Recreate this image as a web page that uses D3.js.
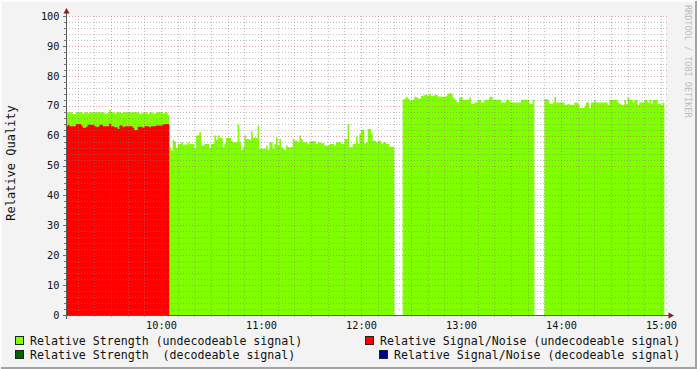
<!DOCTYPE html>
<html>
<head>
<meta charset="utf-8">
<script src="https://cdn.jsdelivr.net/npm/d3@7"></script>
<style>
body { margin: 0; background: #f3f3f3; }
svg { display: block; }
text { font-family: "DejaVu Sans Mono", monospace; }
</style>
</head>
<body>
<svg id="chart" width="697" height="369"></svg>
<script>
// one sample per minute, blocks start at these times
var startA = "09:03", startB = "10:05", startC = "12:25", startD = "13:50";
var rangeStart = "09:03", rangeEnd = "15:03";

var strengthA = [67.8,67.8,67.8,67.8,67.2,67.2,67.8,67.8,67.8,67.8,67.4,67.8,67.8,67.4,67.8,67.8,67.8,67.8,67.8,67.8,
  67.8,67.8,67.8,67.4,67.4,67.8,68.6,67.8,67.8,67.4,67.8,67.8,67.8,67.6,67.8,67.8,67.8,67.8,67.8,67.8,
  67.8,67.8,67.8,67.8,67.4,67.4,67.8,67.8,67.8,67.2,67.8,67.8,67.4,67.4,67.8,67.8,67.8,67.8,67.4,67.8,
  67.8,67.0];
var signalNoiseA = [63.1,63.6,63.1,63.1,63.1,63.1,63.9,63.9,63.9,63.4,62.6,62.6,63.0,63.6,63.6,63.6,63.6,63.1,63.0,63.0,
  63.6,63.6,63.1,63.1,63.1,63.1,64.0,63.1,63.1,62.8,62.8,62.2,63.4,63.4,62.8,63.1,63.1,63.1,63.1,63.1,
  62.6,61.9,61.9,63.0,63.0,63.0,62.6,63.1,63.1,63.1,62.8,63.1,63.1,63.1,63.4,63.4,63.4,63.4,63.7,63.9,
  63.9,63.9];
var strengthB = [56.1,55.0,58.6,58.0,55.8,57.2,57.2,57.8,57.0,57.0,57.0,57.8,57.2,57.2,57.2,55.6,60.0,60.0,61.1,56.7,
  56.7,57.2,57.2,57.2,55.8,57.2,57.2,60.0,58.6,60.0,59.2,59.2,56.1,57.2,59.2,59.2,59.2,58.1,57.8,57.8,
  57.8,63.7,57.8,55.2,56.1,60.0,58.9,58.9,58.6,61.4,59.4,59.4,59.2,63.3,55.6,55.6,55.6,55.6,56.7,55.2,
  57.8,57.8,55.6,57.2,59.4,56.7,58.9,56.1,55.8,55.2,56.7,56.1,56.1,56.1,58.9,58.3,58.3,57.8,60.0,58.9,
  57.8,57.8,57.8,57.2,58.1,58.1,58.1,58.1,57.2,57.8,57.8,57.4,57.4,56.7,56.7,56.7,57.2,57.2,57.2,56.7,
  57.8,57.8,57.8,57.2,57.2,58.9,58.9,63.9,56.1,56.1,57.2,57.2,59.7,57.2,60.6,61.9,61.9,57.4,57.8,62.2,
  62.2,60.6,58.3,58.3,57.8,58.3,58.3,57.2,57.8,57.8,57.2,57.2,56.3,56.3,56.3];
var strengthC = [72.0,72.4,73.0,72.4,71.7,71.7,72.0,73.0,72.8,72.4,72.4,73.3,73.3,73.7,73.7,73.3,73.9,73.3,73.3,73.7,
  73.7,73.1,73.1,73.0,73.0,73.0,73.3,74.1,74.1,74.1,72.8,72.0,71.4,71.1,72.8,72.8,71.9,71.9,71.9,72.0,
  72.8,70.6,70.6,71.1,71.1,71.9,71.9,71.1,71.1,71.9,71.9,71.9,73.0,73.0,72.0,72.0,72.0,72.0,72.0,71.1,
  71.1,71.1,72.0,72.0,71.3,71.1,71.1,71.1,71.1,71.1,71.1,72.0,72.0,72.0,72.0,72.0,70.6,70.6,72.0];
var strengthD = [72.2,72.2,71.7,70.6,70.6,71.1,72.9,71.1,71.1,71.1,71.1,71.1,70.3,70.3,70.6,70.3,70.3,70.3,71.1,71.1,
  70.6,69.2,69.2,69.2,69.7,71.1,71.1,69.2,71.1,71.1,71.9,71.1,71.1,71.1,71.1,71.1,71.1,71.1,70.3,71.9,
  71.9,71.9,71.9,71.9,71.1,70.6,70.3,70.3,71.9,70.6,72.9,71.9,71.9,71.1,71.9,71.9,70.3,71.1,71.1,71.1,
  71.9,71.9,71.1,71.9,70.6,71.9,71.9,71.9,70.6,70.6,70.3,71.1];

var yTicks = [0, 10, 20, 30, 40, 50, 60, 70, 80, 90, 100];
var xLabels = ["10:00", "11:00", "12:00", "13:00", "14:00", "15:00"];

var legendNames = ["Relative Strength (undecodeable signal)", "Relative Signal/Noise (undecodeable signal)",
  "Relative Strength  (decodeable signal)", "Relative Signal/Noise (decodeable signal)"];
var legendColors = ["#7fff00", "#ff0000", "#006400", "#000090"];

var svg = d3.select("#chart"),
    W = +svg.attr("width"), H = +svg.attr("height");
var parse = d3.timeParse("%H:%M");

var x = d3.scaleTime()
    .domain([parse(rangeStart), parse(rangeEnd)])
    .range([66, 666]);
var y = d3.scaleLinear()
    .domain([0, 100])
    .range([315, 16]);

// frame
svg.append("rect").attr("width", W).attr("height", H).attr("fill", "#f3f3f3");
svg.append("path").attr("d", "M1,368V1H696").attr("fill", "none").attr("stroke", "#fcfcfc").attr("stroke-width", 2);
svg.append("path").attr("d", "M1,368H696V1").attr("fill", "none").attr("stroke", "#a2a2a2").attr("stroke-width", 2);
svg.append("rect").attr("x", 66).attr("y", 16).attr("width", 600).attr("height", 299).attr("fill", "white");

function block(start, vals) {
  var t0 = parse(start);
  var pts = vals.map(function(v, i) { return {t: d3.timeMinute.offset(t0, i), v: v}; });
  pts.push({t: d3.timeMinute.offset(t0, vals.length), v: vals[vals.length - 1]});
  return pts;
}

var area = d3.area()
    .curve(d3.curveStepAfter)
    .x(function(d) { return x(d.t); })
    .y0(y(0))
    .y1(function(d) { return y(d.v); });

[[startA, strengthA], [startB, strengthB], [startC, strengthC], [startD, strengthD]].forEach(function(b) {
  svg.append("path").datum(block(b[0], b[1])).attr("fill", "#7fff00").attr("d", area);
});
svg.append("path").datum(block(startA, signalNoiseA)).attr("fill", "#ff0000").attr("d", area);

// grid on top of the data, like rrdtool
var grid = svg.append("g").attr("shape-rendering", "crispEdges");
var minorY = d3.range(0, 101, 2).filter(function(v) { return v % 10; });
var t0 = parse(rangeStart), t1 = parse(rangeEnd);
var minorX = d3.timeMinute.every(10).range(t0, t1).filter(function(d) { return d.getMinutes() % 30; });
var majorX = d3.timeMinute.every(30).range(d3.timeMinute.offset(t0, 1), t1);
var minorColor = "rgba(130,130,130,0.5)", majorColor = "rgba(215,50,50,0.45)";

grid.selectAll(".hmin").data(minorY).enter().append("line")
    .attr("x1", 66).attr("x2", 669).attr("y1", function(d) { return Math.round(y(d)) + 0.5; }).attr("y2", function(d) { return Math.round(y(d)) + 0.5; })
    .attr("stroke", minorColor).attr("stroke-dasharray", "1,2");
grid.selectAll(".vmin").data(minorX).enter().append("line")
    .attr("x1", function(d) { return Math.round(x(d)) + 0.5; }).attr("x2", function(d) { return Math.round(x(d)) + 0.5; })
    .attr("y1", 16).attr("y2", 317)
    .attr("stroke", minorColor).attr("stroke-dasharray", "1,2");
grid.selectAll(".hmaj").data(yTicks.slice(1)).enter().append("line")
    .attr("x1", 66).attr("x2", 669).attr("y1", function(d) { return Math.round(y(d)) + 0.5; }).attr("y2", function(d) { return Math.round(y(d)) + 0.5; })
    .attr("stroke", majorColor).attr("stroke-dasharray", "1,2");
grid.selectAll(".vmaj").data(majorX).enter().append("line")
    .attr("x1", function(d) { return Math.round(x(d)) + 0.5; }).attr("x2", function(d) { return Math.round(x(d)) + 0.5; })
    .attr("y1", 16).attr("y2", 318)
    .attr("stroke", majorColor).attr("stroke-dasharray", "1,2");

// y axis
var yAxis = d3.axisLeft(y).tickValues(yTicks).tickSize(4).tickPadding(3);
svg.append("g").attr("transform", "translate(66.5,0)").call(customYAxis);
svg.append("g").attr("shape-rendering", "crispEdges").selectAll("line").data(minorY).enter().append("line")
    .attr("x1", 64).attr("x2", 66).attr("y1", function(d) { return Math.round(y(d)) + 0.5; }).attr("y2", function(d) { return Math.round(y(d)) + 0.5; })
    .attr("stroke", "#7a7a7a");

function customYAxis(g) {
  g.call(yAxis);
  g.select(".domain").remove();
  g.selectAll(".tick line").attr("stroke", "#6e6e6e").attr("shape-rendering", "crispEdges");
  g.selectAll(".tick text").attr("fill", "#111").attr("font-size", "10.3px").attr("font-family", "DejaVu Sans Mono");
}

// x axis
var xAxis = d3.axisBottom(x)
    .tickValues(xLabels.map(parse))
    .tickFormat(d3.timeFormat("%H:%M"))
    .tickSize(0).tickPadding(7);
svg.append("g").attr("transform", "translate(0,315)").call(customXAxis);

function customXAxis(g) {
  g.call(xAxis);
  g.select(".domain").remove();
  g.selectAll(".tick text").attr("fill", "#111").attr("font-size", "10.3px").attr("font-family", "DejaVu Sans Mono");
}

// axis lines + arrows
svg.append("line").attr("x1", 66.5).attr("x2", 66.5).attr("y1", 318).attr("y2", 12).attr("stroke", "#5a5a5a");
svg.append("line").attr("x1", 63).attr("x2", 670).attr("y1", 315.5).attr("y2", 315.5).attr("stroke", "#5a5a5a");
svg.append("line").attr("x1", 66.5).attr("x2", 66.5).attr("y1", 315).attr("y2", 319).attr("stroke", "#5a5a5a");
svg.append("path").attr("d", "M63.5,13.5L69.5,13.5L66.5,8Z").attr("fill", "#8c1e1e");
svg.append("path").attr("d", "M668.5,312.5L668.5,318.5L674,315.5Z").attr("fill", "#8c1e1e");

// titles
svg.append("text").attr("transform", "translate(15,163) rotate(-90)")
    .attr("text-anchor", "middle").attr("font-size", "12px").attr("fill", "#111")
    .text("Relative Quality");
svg.append("text").attr("transform", "translate(685,5) rotate(90)")
    .attr("font-size", "8.5px").attr("fill", "#bcbcbc")
    .text("RRDTOOL / TOBI OETIKER");

// legend
var legendPos = [[15, 345], [365, 345], [15, 359], [379, 359]];
legendNames.forEach(function(name, i) {
  var p = legendPos[i];
  svg.append("rect").attr("x", p[0] + 0.5).attr("y", p[1] - 8.5).attr("width", 8).attr("height", 8)
      .attr("fill", legendColors[i]).attr("stroke", "#222").attr("stroke-width", 1);
  svg.append("text").attr("x", p[0] + 15).attr("y", p[1]).attr("font-size", "11.6px").attr("fill", "#111")
      .attr("xml:space", "preserve").style("white-space", "pre").text(name);
});
</script>
</body>
</html>
